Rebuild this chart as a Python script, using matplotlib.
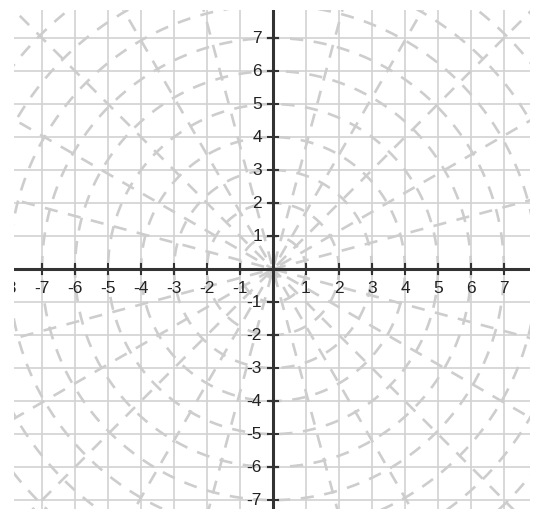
import numpy as np
import matplotlib
matplotlib.use("Agg")
import matplotlib.pyplot as plt

# tick values and polar grid settings
x_labels = [-8, -7, -6, -5, -4, -3, -2, -1, 1, 2, 3, 4, 5, 6, 7]
y_labels = [-7, -6, -5, -4, -3, -2, -1, 1, 2, 3, 4, 5, 6, 7, 8]
grid_values = list(range(-9, 10))
radii = list(range(1, 12))
angles_deg = list(range(0, 180, 15))

plt.rcParams['font.family'] = ['Liberation Sans', 'DejaVu Sans']

fig = plt.figure(figsize=(5.37, 5.09), dpi=100)
ax = fig.add_axes([14 / 537, 0, 516 / 537, 499 / 509])
ax.set_xlim(-7.85, 7.79)
ax.set_ylim(-7.27, 7.85)
ax.axis('off')

grid_col = '#d2d2d2'
dash_col = '#cdcdcd'
dash_lw = 1.9
unit_px = 33.0

# cartesian grid
for v in grid_values:
    ax.axvline(v, color=grid_col, lw=1.2, zorder=1)
    ax.axhline(v, color=grid_col, lw=1.2, zorder=1)

# polar grid (dashed)
t = np.linspace(0, 2 * np.pi, 1441)
for r in radii:
    ax.plot(r * np.cos(t), r * np.sin(t), color=dash_col, lw=dash_lw,
            dashes=(5, 4), zorder=2)

# diameters drawn from the upper end down, so a dash ends just past the centre
period_px = 9 * dash_lw * 100 / 72
L = (16 + 16 * period_px) / unit_px
for a in angles_deg:
    th = np.deg2rad(a)
    ax.plot([L * np.cos(th), -L * np.cos(th)], [L * np.sin(th), -L * np.sin(th)],
            color=dash_col, lw=dash_lw, dashes=(5, 4), zorder=2)

# axes
ax.axhline(0, color='#333333', lw=2.2, zorder=4)
ax.axvline(0, color='#333333', lw=2.2, zorder=4)

for v in x_labels:
    ax.plot([v, v], [-0.15, 0.15], color='#333333', lw=1.5, zorder=4)
    ax.text(v, -0.58, str(v), ha='center', va='center', fontsize=12.5,
            color='#222222', clip_on=True, zorder=5)
for v in y_labels:
    ax.plot([-0.15, 0.15], [v, v], color='#333333', lw=1.5, zorder=4)
    ax.text(-0.33, v, str(v), ha='right', va='center', fontsize=12.5,
            color='#222222', clip_on=True, zorder=5)

fig.savefig('out.png', dpi=100, facecolor='white')
